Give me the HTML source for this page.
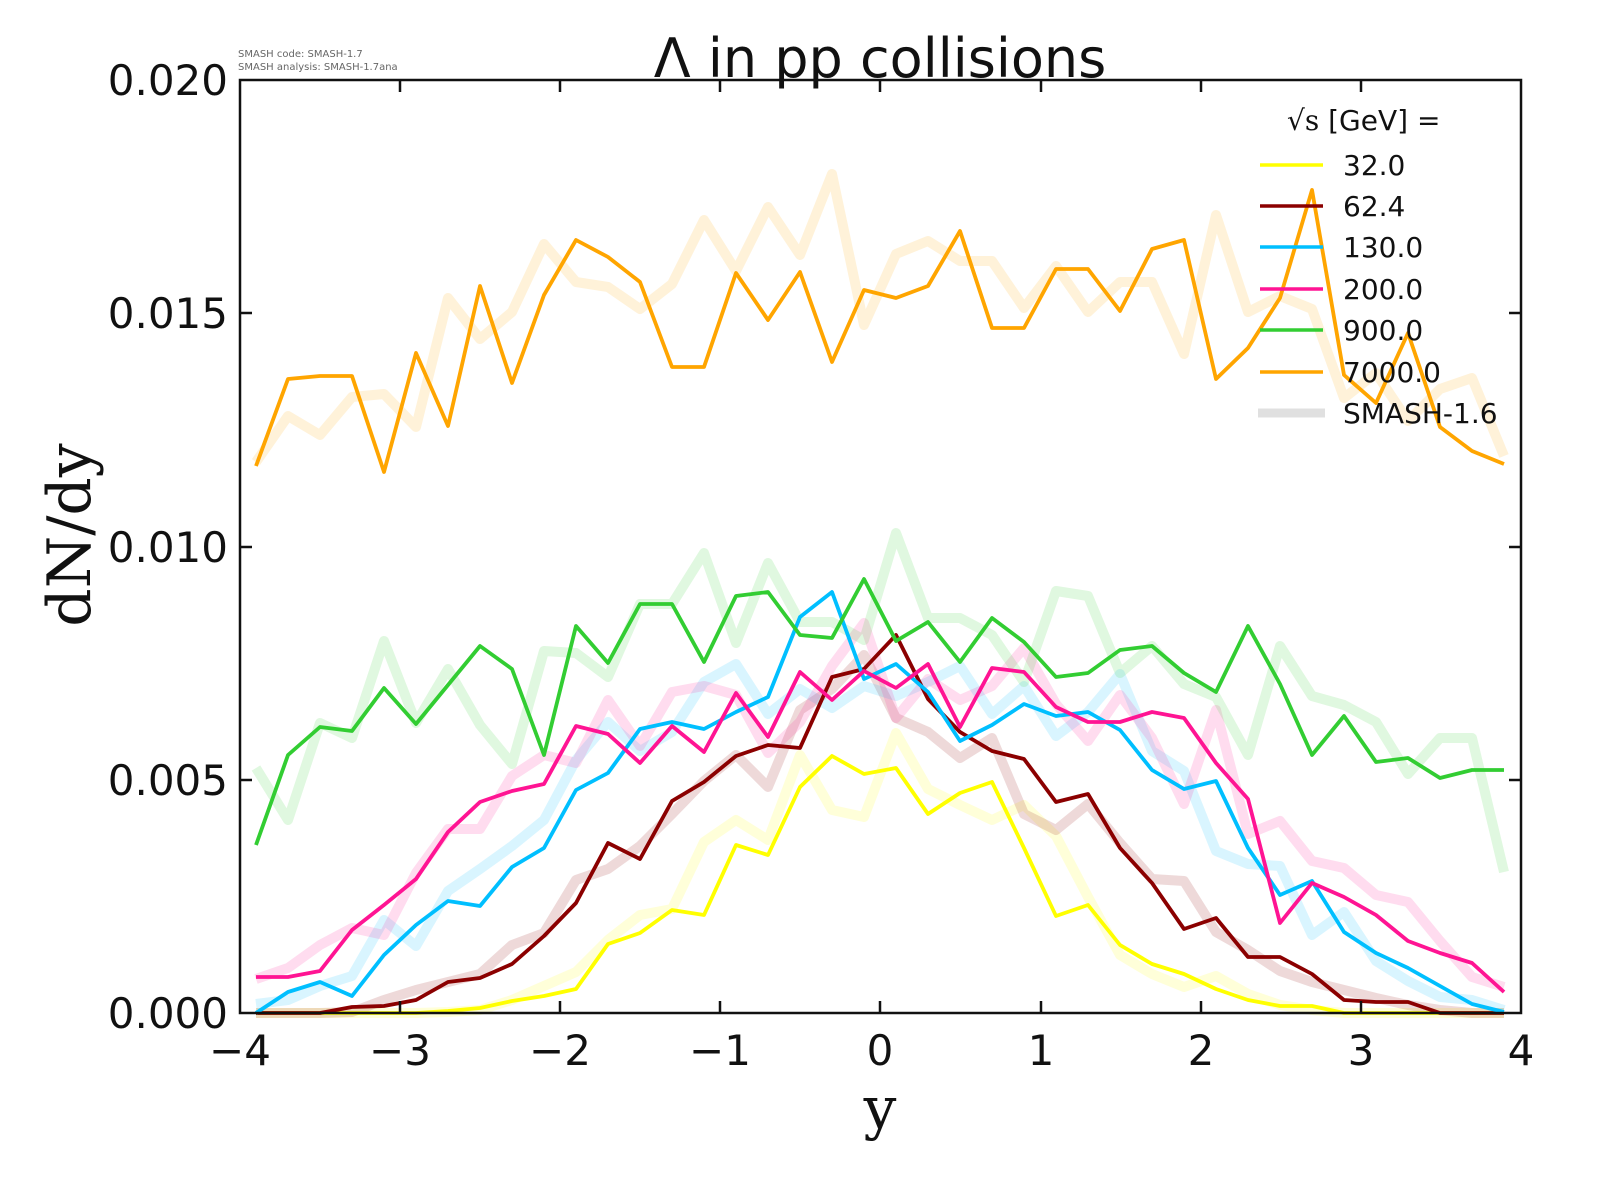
<!DOCTYPE html>
<html><head><meta charset="utf-8"><style>
html,body{margin:0;padding:0;background:#fff;}
svg{display:block;}
text{font-family:"DejaVu Sans","Liberation Sans",sans-serif;fill:#111;}
</style></head><body>
<svg id="s" width="1600" height="1200" viewBox="0 0 1600 1200" xmlns="http://www.w3.org/2000/svg">
<g id="light"></g>
<g id="main"></g>
<rect x="240" y="80" width="1281" height="933" fill="none" stroke="#111" stroke-width="2.5"/>
<g stroke="#111" stroke-width="2.5">
<line x1="240" y1="313" x2="252" y2="313"/><line x1="240" y1="547" x2="252" y2="547"/><line x1="240" y1="780" x2="252" y2="780"/>
<line x1="1521" y1="313" x2="1509" y2="313"/><line x1="1521" y1="547" x2="1509" y2="547"/><line x1="1521" y1="780" x2="1509" y2="780"/>
<line x1="400" y1="1013" x2="400" y2="1001"/><line x1="560" y1="1013" x2="560" y2="1001"/><line x1="720" y1="1013" x2="720" y2="1001"/><line x1="880" y1="1013" x2="880" y2="1001"/><line x1="1041" y1="1013" x2="1041" y2="1001"/><line x1="1201" y1="1013" x2="1201" y2="1001"/><line x1="1361" y1="1013" x2="1361" y2="1001"/>
<line x1="400" y1="80" x2="400" y2="92"/><line x1="560" y1="80" x2="560" y2="92"/><line x1="720" y1="80" x2="720" y2="92"/><line x1="880" y1="80" x2="880" y2="92"/><line x1="1041" y1="80" x2="1041" y2="92"/><line x1="1201" y1="80" x2="1201" y2="92"/><line x1="1361" y1="80" x2="1361" y2="92"/>
</g>
<g font-size="42" text-anchor="end">
<text x="228" y="95">0.020</text><text x="228" y="328">0.015</text><text x="228" y="562">0.010</text><text x="228" y="795">0.005</text><text x="228" y="1028">0.000</text>
</g>
<g font-size="42" text-anchor="middle">
<text x="240" y="1065">−4</text><text x="400" y="1065">−3</text><text x="560" y="1065">−2</text><text x="720" y="1065">−1</text><text x="880" y="1065">0</text><text x="1041" y="1065">1</text><text x="1201" y="1065">2</text><text x="1361" y="1065">3</text><text x="1521" y="1065">4</text>
</g>
<text x="880" y="77" font-size="54" text-anchor="middle">Λ in pp collisions</text>
<text x="880" y="1128" font-size="58" text-anchor="middle" style="font-family:'DejaVu Serif','Liberation Serif',serif">y</text>
<text transform="translate(90,535) rotate(-90)" font-size="60" text-anchor="middle" style="font-family:'DejaVu Serif','Liberation Serif',serif">dN/dy</text>
<text x="238" y="57" font-size="10" style="fill:#666">SMASH code:      SMASH-1.7</text>
<text x="238" y="70" font-size="10" style="fill:#666">SMASH analysis: SMASH-1.7ana</text>
<text x="1287" y="130" font-size="28"><tspan style="font-family:'DejaVu Serif',serif">√s</tspan>  [GeV] =</text>
<g stroke-width="3.5">
<line x1="1260" y1="165" x2="1323" y2="165" stroke="#ffff00"/>
<line x1="1260" y1="206" x2="1323" y2="206" stroke="#8b0000"/>
<line x1="1260" y1="247" x2="1323" y2="247" stroke="#00bfff"/>
<line x1="1260" y1="289" x2="1323" y2="289" stroke="#ff1493"/>
<line x1="1260" y1="330" x2="1323" y2="330" stroke="#32cd32"/>
<line x1="1260" y1="372" x2="1323" y2="372" stroke="#ffa500"/>
<line x1="1258" y1="413" x2="1325" y2="413" stroke="#e0e0e0" stroke-width="9"/>
</g>
<g font-size="28">
<text x="1343" y="175">32.0</text><text x="1343" y="216">62.4</text><text x="1343" y="257">130.0</text><text x="1343" y="299">200.0</text><text x="1343" y="340">900.0</text><text x="1343" y="382">7000.0</text><text x="1343" y="423">SMASH-1.6</text>
</g>
</svg>
<script>
var S={
yl:[1013,1013,1013,1013,1013,1013,1012,1010,1000,986,972,940,915,909,842,820,840,755,810,817,733,789,805,820,805,836,897,955,974,987,976,994,1005,1010,1013,1013,1013,1013,1013,1013],
rl:[1013,1013,1013,1012,1000,990,982,974,945,933,880,869,846,814,781,755,787,710,689,655,718,732,758,738,814,830,804,843,879,881,932,950,971,982,990,998,1005,1010,1013,1013],
cl:[1004,1000,986,976,920,946,891,869,846,820,760,722,751,732,682,664,714,689,708,686,696,682,666,714,686,736,712,674,751,771,851,864,866,935,912,961,981,997,1000,1010],
pl:[979,968,945,928,935,873,829,829,776,755,763,700,746,692,686,695,753,722,666,623,718,679,700,686,648,704,741,695,738,804,710,834,821,861,868,895,902,941,977,987],
gl:[768,820,723,738,641,723,669,725,764,651,653,677,604,604,553,643,563,622,622,640,533,618,618,635,682,591,596,673,646,684,697,755,646,696,705,722,774,738,738,872],
ol:[462,416,435,397,394,427,298,339,312,244,282,287,309,284,220,271,207,255,174,325,254,241,261,261,308,266,312,282,282,354,215,312,296,309,398,373,421,389,378,456],
y:[1013,1013,1013,1013,1013,1013,1011,1008,1001,996,989,944,933,910,915,845,855,787,756,774,768,814,793,782,848,916,905,945,964,974,989,1000,1006,1006,1013,1013,1013,1013,1013,1013],
r:[1013,1013,1013,1007,1006,1000,982,978,964,936,903,843,859,801,782,756,745,748,677,669,635,699,732,751,759,802,794,848,883,929,918,957,957,974,1000,1002,1002,1013,1013,1013],
c:[1013,992,982,996,955,925,901,906,867,848,790,773,729,722,729,712,697,617,592,679,664,692,741,725,704,716,712,730,770,789,781,848,895,881,932,953,968,986,1004,1012],
p:[977,977,971,930,905,879,832,802,791,784,726,734,763,726,752,693,737,672,700,671,688,664,727,668,672,707,722,722,712,718,763,799,923,883,897,915,941,953,963,992],
g:[845,755,727,731,688,724,685,646,669,755,626,663,604,604,662,596,592,635,638,579,641,622,662,618,642,677,673,650,646,673,692,626,684,755,716,762,758,778,770,770],
o:[466,379,376,376,472,353,426,286,383,295,240,257,282,367,367,273,320,272,362,290,298,286,231,328,328,269,269,311,249,240,379,348,298,190,375,403,333,427,451,464]};
function pts(a){return a.map(function(v,i){return (256+32*i)+','+v}).join(' ');}
var NS='http://www.w3.org/2000/svg';
function add(g,a,col,w,op){var p=document.createElementNS(NS,'polyline');p.setAttribute('points',pts(a));p.setAttribute('fill','none');p.setAttribute('stroke',col);p.setAttribute('stroke-width',w);p.setAttribute('stroke-opacity',op);p.setAttribute('stroke-linejoin','round');document.getElementById(g).appendChild(p);}
add('light',S.yl,'#ffff00',10,0.15);add('light',S.rl,'#8b0000',10,0.15);add('light',S.cl,'#00bfff',10,0.15);add('light',S.pl,'#ff1493',10,0.15);add('light',S.gl,'#32cd32',10,0.15);add('light',S.ol,'#ffa500',10,0.15);
add('main',S.y,'#ffff00',3.8,1);add('main',S.r,'#8b0000',3.8,1);add('main',S.c,'#00bfff',3.8,1);add('main',S.p,'#ff1493',3.8,1);add('main',S.g,'#32cd32',3.8,1);add('main',S.o,'#ffa500',3.8,1);
</script>
</body></html>
